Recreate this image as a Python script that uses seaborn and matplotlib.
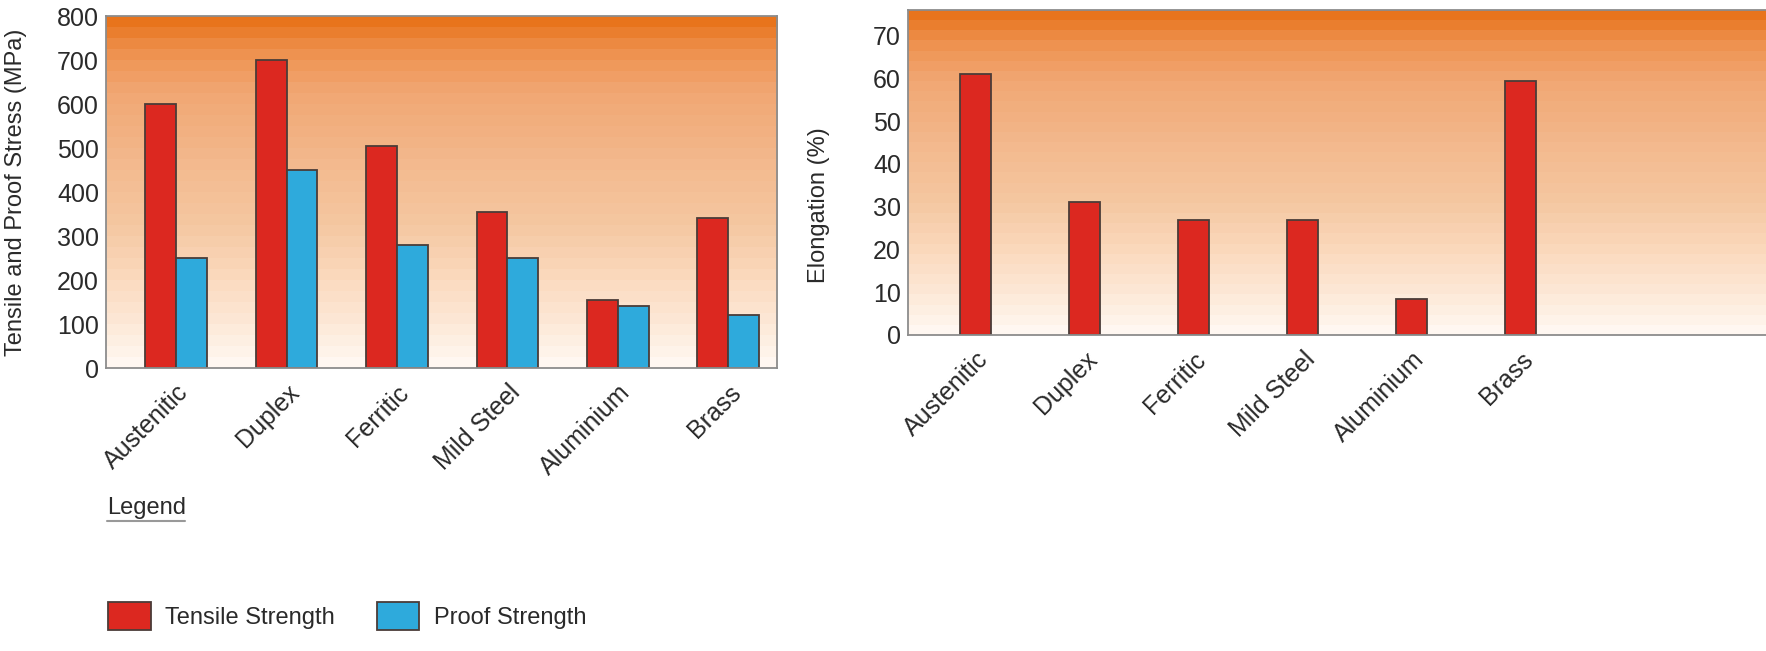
import seaborn as sns
import pandas as pd
import numpy as np
import matplotlib.pyplot as plt
from matplotlib.colors import LinearSegmentedColormap
from matplotlib.lines import Line2D

materials = ['Austenitic', 'Duplex', 'Ferritic', 'Mild Steel', 'Aluminium', 'Brass']
tensile = [600, 700, 505, 355, 155, 340]
proof = [250, 450, 280, 250, 140, 120]
elongation = [61, 31, 27, 27, 8.5, 59.5]

red = '#DC2820'
blue = '#2EAADC'
edge = '#4a3c38'

sns.set_theme(style='white')
plt.rcParams['font.family'] = ['Liberation Sans', 'DejaVu Sans']

df = pd.DataFrame({
    'material': materials * 2,
    'value': tensile + proof,
    'kind': ['Tensile Strength'] * 6 + ['Proof Strength'] * 6,
})
df_el = pd.DataFrame({'material': materials, 'value': elongation})

# orange to cream banded background
base = LinearSegmentedColormap.from_list('bg', [
    (0.0, '#E8741C'), (0.08, '#EE904C'), (0.2, '#F1A672'), (0.4, '#F3B88C'),
    (0.6, '#F5C8A2'), (0.75, '#FBD9BD'), (0.88, '#FDE8D6'), (1.0, '#FFF7F1')])
bands = base(np.linspace(0, 1, 32))[:, None, :]

W, H = 1766, 651
fig = plt.figure(figsize=(W / 100, H / 100), dpi=100)

ax1 = fig.add_axes([106 / W, 1 - 368 / H, 671 / W, 352 / H])
ax2 = fig.add_axes([908 / W, 1 - 335 / H, 885 / W, 325 / H])

for ax in (ax1, ax2):
    ax.imshow(bands, extent=[0, 1, 0, 1], transform=ax.transAxes,
              aspect='auto', interpolation='nearest', zorder=0)

sns.barplot(data=df, x='material', y='value', hue='kind',
            palette=[red, blue], width=0.56, edgecolor=edge, linewidth=1.3,
            saturation=1, ax=ax1, zorder=2)
handles, labels = ax1.get_legend_handles_labels()
ax1.get_legend().remove()

sns.barplot(data=df_el, x='material', y='value', color=red, width=0.285,
            edgecolor=edge, linewidth=1.3, saturation=1, ax=ax2, zorder=2)

ax1.set_xlim(-0.634, 5.44)
ax1.set_ylim(0, 800)
ax1.set_yticks(range(0, 801, 100))
ax2.set_xlim(-0.62, 7.5)
ax2.set_ylim(0, 76)
ax2.set_yticks(range(0, 71, 10))

for ax in (ax1, ax2):
    ax.set_xlabel('')
    ax.tick_params(axis='y', length=0, pad=5)
    ax.tick_params(axis='x', length=0, pad=9)
    for t in ax.get_yticklabels():
        t.set_fontsize(18)
        t.set_color('#2a2a2a')
    for t in ax.get_xticklabels():
        t.set_rotation(45)
        t.set_ha('right')
        t.set_rotation_mode('anchor')
        t.set_fontsize(18)
        t.set_color('#2a2a2a')
    for s in ax.spines.values():
        s.set_color('#8c8c8c')
        s.set_linewidth(1.3)

ax1.set_ylabel('Tensile and Proof Stress (MPa)', fontsize=17, color='#2a2a2a')
ax1.yaxis.set_label_coords(-0.118, 0.5)
ax2.set_ylabel('Elongation (%)', fontsize=17, color='#2a2a2a')
ax2.yaxis.set_label_coords(-0.088, 0.4)

fig.text(107 / W, 1 - 508 / H, 'Legend', fontsize=17, color='#2a2a2a', va='center')
fig.add_artist(Line2D([107 / W, 185 / W], [1 - 521 / H, 1 - 521 / H],
                      color='#999999', lw=1.5))

fig.legend(handles, labels, loc='center left', bbox_to_anchor=(108 / W, 1 - 616 / H),
           ncol=2, frameon=False, fontsize=17, handlelength=1.8, handleheight=1.5,
           handletextpad=0.6, columnspacing=1.8, borderpad=0, borderaxespad=0,
           labelcolor='#2a2a2a')

fig.savefig('out.png', dpi=100)
